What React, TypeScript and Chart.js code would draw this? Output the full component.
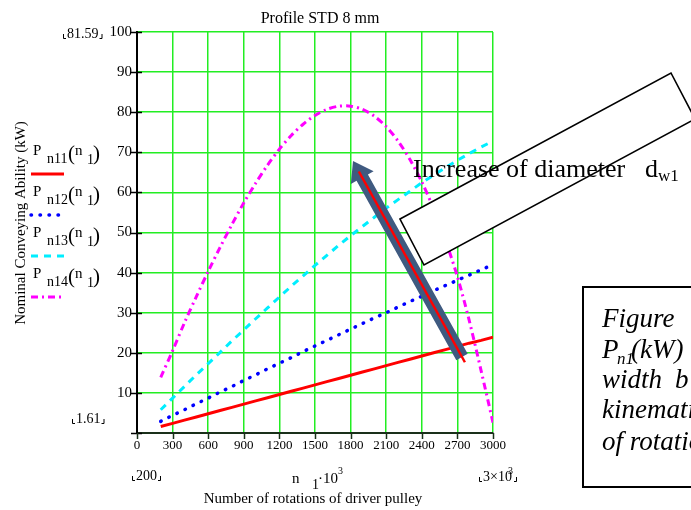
import React, { useEffect, useRef } from "react";
import { Chart, registerables } from "chart.js";

Chart.register(...registerables);

// rotations of driver pulley n1 (rpm)
const rpm = [200, 300, 400, 500, 600, 700, 800, 900, 1000, 1100, 1200, 1300, 1400, 1500, 1600, 1700, 1800, 1900, 2000, 2100, 2200, 2300, 2400, 2500, 2600, 2700, 2800, 2900, 3000];
// nominal conveying ability (kW)
const pn11 = [1.61, 2.4, 3.2, 4.0, 4.8, 5.6, 6.4, 7.2, 8.0, 8.8, 9.6, 10.4, 11.2, 12.0, 12.8, 13.6, 14.4, 15.2, 16.0, 16.8, 17.6, 18.4, 19.2, 20.0, 20.8, 21.6, 22.4, 23.1, 23.9];
const pn12 = [2.9, 4.4, 5.8, 7.3, 8.7, 10.2, 11.6, 13.1, 14.5, 16.0, 17.4, 18.8, 20.3, 21.7, 23.1, 24.5, 25.9, 27.3, 28.7, 30.0, 31.4, 32.8, 34.1, 35.5, 36.8, 38.1, 39.4, 40.7, 42.0];
const pn13 = [5.8, 8.7, 11.6, 14.5, 17.3, 20.1, 23.0, 25.7, 28.5, 31.2, 33.9, 36.6, 39.2, 41.8, 44.3, 46.8, 49.2, 51.5, 53.8, 56.1, 58.2, 60.3, 62.4, 64.3, 66.2, 68.0, 69.7, 71.3, 72.8];
const pn14 = [13.9, 20.5, 27.5, 34.0, 40.3, 46.3, 52.0, 57.4, 62.3, 66.8, 70.8, 74.2, 77.0, 79.2, 80.7, 81.5, 81.5, 80.7, 79.0, 76.4, 72.8, 68.2, 62.6, 55.9, 48.0, 39.0, 28.0, 15.5, 2.6];

const xMin = 0, xMax = 3000, xStep = 300;
const yMin = 0, yMax = 100, yStep = 10;

const SERIF = '"Liberation Serif", "Times New Roman", serif';

function txt(ctx: CanvasRenderingContext2D, s: string, x: number, y: number, size: number, opts: { align?: CanvasTextAlign; italic?: boolean; color?: string } = {}) {
  ctx.save();
  ctx.font = `${opts.italic ? "italic " : ""}${size}px ${SERIF}`;
  ctx.textAlign = opts.align || "left";
  ctx.textBaseline = "alphabetic";
  ctx.fillStyle = opts.color || "#000";
  ctx.fillText(s, x, y);
  ctx.restore();
}

function cornerLabel(ctx: CanvasRenderingContext2D, s: string, x: number, base: number, size: number) {
  ctx.save();
  ctx.font = `${size}px ${SERIF}`;
  const w = ctx.measureText(s).width;
  ctx.restore();
  txt(ctx, s, x + 4, base, size);
  ctx.save();
  ctx.strokeStyle = "#000";
  ctx.lineWidth = 1;
  ctx.beginPath();
  ctx.moveTo(x + 0.5, base - 4);
  ctx.lineTo(x + 0.5, base + 0.5);
  ctx.lineTo(x + 3, base + 0.5);
  const r = x + 4 + w + 4;
  ctx.moveTo(r - 0.5, base - 4);
  ctx.lineTo(r - 0.5, base + 0.5);
  ctx.lineTo(r - 3, base + 0.5);
  ctx.stroke();
  ctx.restore();
}

const overlay = {
  id: "overlay",
  afterDraw(chart: any) {
    const ctx: CanvasRenderingContext2D = chart.ctx;
    const xs = chart.scales.x;
    const ys = chart.scales.y;
    const area = chart.chartArea;

    // tick marks
    ctx.save();
    ctx.strokeStyle = "#000";
    ctx.lineWidth = 1.5;
    for (let v = yMin; v <= yMax; v += yStep) {
      const py = Math.round(ys.getPixelForValue(v)) + 0.5;
      ctx.beginPath();
      ctx.moveTo(area.left - 6, py);
      ctx.lineTo(area.left + 5, py);
      ctx.stroke();
    }
    ctx.strokeStyle = "#1a301a";
    for (let v = xMin; v <= xMax; v += xStep) {
      const px = Math.round(xs.getPixelForValue(v)) + 0.5;
      ctx.beginPath();
      ctx.moveTo(px, area.bottom);
      ctx.lineTo(px, area.bottom + 6);
      ctx.stroke();
    }
    ctx.restore();

    // title
    txt(ctx, "Profile STD 8 mm", 320, 23, 16, { align: "center" });

    // y axis title
    ctx.save();
    ctx.translate(25, 223);
    ctx.rotate(-Math.PI / 2);
    ctx.font = `15px ${SERIF}`;
    ctx.textAlign = "center";
    ctx.fillStyle = "#000";
    ctx.fillText("Nominal Conveying Ability (kW)", 0, 0);
    ctx.restore();

    // range labels
    cornerLabel(ctx, "81.59", 63, 38, 14);
    cornerLabel(ctx, "1.61", 72, 423, 14);
    cornerLabel(ctx, "200", 132, 480, 14);
    // 3x10^3
    ctx.save();
    ctx.strokeStyle = "#000";
    ctx.lineWidth = 1;
    ctx.beginPath();
    ctx.moveTo(479.5, 477); ctx.lineTo(479.5, 481.5); ctx.lineTo(482, 481.5);
    ctx.moveTo(516.5, 477); ctx.lineTo(516.5, 481.5); ctx.lineTo(514, 481.5);
    ctx.stroke();
    ctx.restore();
    txt(ctx, "3×10", 483, 481, 14);
    txt(ctx, "3", 508, 474, 10);

    // n1 . 10^3
    txt(ctx, "n", 292, 483, 15);
    txt(ctx, "1", 312, 489, 14);
    txt(ctx, "·10", 318, 483, 15);
    txt(ctx, "3", 338, 474, 10);

    txt(ctx, "Number of rotations of driver pulley", 313, 503, 15, { align: "center" });

    // legend
    const entries = [
      { sub: "n11", color: "#ff0000", dash: [] as number[], cap: "butt" as CanvasLineCap, w: 3 },
      { sub: "n12", color: "#0000ff", dash: [0.5, 8.5], cap: "round" as CanvasLineCap, w: 3.5 },
      { sub: "n13", color: "#00eeff", dash: [7, 6], cap: "butt" as CanvasLineCap, w: 3 },
      { sub: "n14", color: "#ff00ff", dash: [7, 4, 2, 4], cap: "butt" as CanvasLineCap, w: 3 },
    ];
    const bases = [155, 196, 237, 278];
    entries.forEach((e, i) => {
      const b = bases[i];
      txt(ctx, "P", 33, b, 15);
      txt(ctx, e.sub, 47, b + 8, 14);
      txt(ctx, "(", 68, b + 5, 21);
      txt(ctx, "n", 75, b, 15);
      txt(ctx, "1", 87, b + 9, 14);
      txt(ctx, ")", 93, b + 5, 21);
      ctx.save();
      ctx.strokeStyle = e.color;
      ctx.lineWidth = e.w;
      ctx.lineCap = e.cap;
      ctx.setLineDash(e.dash);
      ctx.beginPath();
      ctx.moveTo(31, b + 19);
      ctx.lineTo(64, b + 19);
      ctx.stroke();
      ctx.restore();
    });

    // rotated box
    ctx.save();
    ctx.beginPath();
    ctx.moveTo(400, 219);
    ctx.lineTo(671, 73);
    ctx.lineTo(695, 119);
    ctx.lineTo(424, 265);
    ctx.closePath();
    ctx.fillStyle = "#fff";
    ctx.fill();
    ctx.strokeStyle = "#000";
    ctx.lineWidth = 1.6;
    ctx.stroke();
    ctx.restore();

    txt(ctx, "Increase of diameter", 413, 177, 26);
    txt(ctx, "d", 645, 177, 26);
    txt(ctx, "w1", 658, 181, 17);

    // arrow
    const tail = { x: 462, y: 357 };
    const tip = { x: 353, y: 161 };
    const dx = tip.x - tail.x, dy = tip.y - tail.y;
    const len = Math.hypot(dx, dy);
    const ux = dx / len, uy = dy / len;
    const vx = -uy, vy = ux;
    const sw = 6.5, hw = 13, hl = 19;
    const nx = tip.x - ux * hl, ny = tip.y - uy * hl;
    ctx.save();
    ctx.beginPath();
    ctx.moveTo(tail.x + vx * sw, tail.y + vy * sw);
    ctx.lineTo(nx + vx * sw, ny + vy * sw);
    ctx.lineTo(nx + vx * hw, ny + vy * hw);
    ctx.lineTo(tip.x, tip.y);
    ctx.lineTo(nx - vx * hw, ny - vy * hw);
    ctx.lineTo(nx - vx * sw, ny - vy * sw);
    ctx.lineTo(tail.x - vx * sw, tail.y - vy * sw);
    ctx.closePath();
    ctx.fillStyle = "#3f5a80";
    ctx.fill();
    ctx.strokeStyle = "#ff0000";
    ctx.lineWidth = 2.5;
    ctx.beginPath();
    ctx.moveTo(tail.x - ux * 6, tail.y - uy * 6);
    ctx.lineTo(tip.x - ux * 12, tip.y - uy * 12);
    ctx.stroke();
    ctx.restore();

    // caption box
    ctx.save();
    ctx.strokeStyle = "#000";
    ctx.lineWidth = 2;
    ctx.strokeRect(583, 287, 130, 200);
    ctx.restore();
    txt(ctx, "Figure", 602, 327, 27, { italic: true });
    txt(ctx, "P", 602, 358, 27, { italic: true });
    txt(ctx, "n1", 617, 364, 17, { italic: true });
    txt(ctx, "(kW)", 631, 358, 27, { italic: true });
    txt(ctx, "width", 602, 388, 27, { italic: true });
    txt(ctx, "b", 675, 388, 27, { italic: true });
    txt(ctx, "kinematic", 602, 418, 27, { italic: true });
    txt(ctx, "of rotations", 602, 450, 27, { italic: true });
  },
};

function toPoints(ys: number[]) {
  return rpm.map((n, i) => ({ x: n, y: ys[i] }));
}

export default function App() {
  const ref = useRef<HTMLCanvasElement>(null);
  useEffect(() => {
    if (!ref.current) return;
    const chart = new Chart(ref.current, {
      type: "line",
      data: {
        datasets: [
          { label: "Pn11(n1)", data: toPoints(pn11), borderColor: "#ff0000", borderWidth: 3, pointRadius: 0, tension: 0, fill: false },
          { label: "Pn12(n1)", data: toPoints(pn12), borderColor: "#0000ff", borderWidth: 3.5, borderDash: [0.5, 8.5], borderCapStyle: "round", pointRadius: 0, tension: 0, fill: false },
          { label: "Pn13(n1)", data: toPoints(pn13), borderColor: "#00eeff", borderWidth: 3, borderDash: [7, 6], pointRadius: 0, tension: 0, fill: false },
          { label: "Pn14(n1)", data: toPoints(pn14), borderColor: "#ff00ff", borderWidth: 3, borderDash: [7, 4, 2, 4], pointRadius: 0, tension: 0.3, fill: false },
        ],
      },
      options: {
        animation: false,
        responsive: false,
        devicePixelRatio: 1,
        events: [],
        layout: { padding: { left: 87, right: 198, top: 32, bottom: 47 } },
        plugins: { legend: { display: false }, title: { display: false }, tooltip: { enabled: false } },
        scales: {
          x: {
            type: "linear",
            min: xMin,
            max: xMax,
            ticks: {
              stepSize: xStep,
              autoSkip: false,
              maxRotation: 0,
              padding: 5,
              color: "#000",
              font: { family: SERIF, size: 13 },
              callback: (v: any) => String(v),
            },
            grid: { color: "#22ee22", lineWidth: 1.5, drawTicks: false },
            border: { color: "#1a301a", width: 2 },
            afterFit: (s: any) => { s.height = 30; },
          },
          y: {
            min: yMin,
            max: yMax,
            ticks: {
              stepSize: yStep,
              padding: 5,
              color: "#000",
              font: { family: SERIF, size: 15 },
              callback: (v: any) => (v === 0 ? "" : String(v)),
            },
            grid: { color: "#22ee22", lineWidth: 1.5, drawTicks: false },
            border: { color: "#000", width: 2 },
            afterFit: (s: any) => { s.width = 50; },
          },
        },
      },
      plugins: [overlay],
    });
    return () => chart.destroy();
  }, []);
  return (
    <div style={{ position: "absolute", left: 0, top: 0, width: 691, height: 510, background: "#fff" }}>
      <canvas ref={ref} width={691} height={510} style={{ width: 691, height: 510, display: "block" }} />
    </div>
  );
}
